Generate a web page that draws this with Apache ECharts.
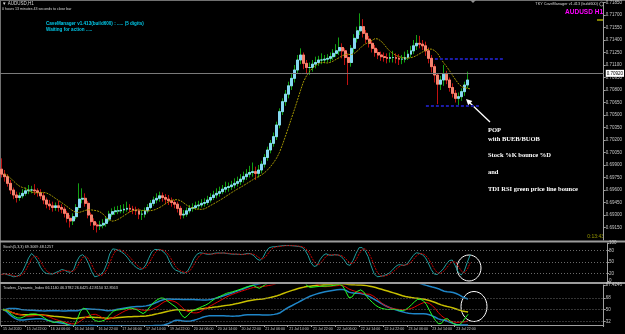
<!DOCTYPE html>
<html>
<head>
<meta charset="utf-8">
<style>
  html,body{margin:0;padding:0;background:#000;}
  #chart{width:625px;height:334px;}
</style>
</head>
<body>
<div id="chart"></div>
<script src="https://cdn.jsdelivr.net/npm/echarts@6/dist/echarts.min.js"></script>
<script>
// AUDUSD H1, one entry per hourly bar
var firstOpen = 0.6985;
var closes = [
  0.6979,0.6976,0.6968,0.6960,0.6954,0.6951,0.6953,0.6956,0.6959,0.6960,
  0.6960,0.6959,0.6957,0.6953,0.6948,0.6943,0.6941,0.6939,0.6941,0.6939,
  0.6937,0.6932,0.6926,0.6923,0.6928,0.6939,0.6949,0.6950,0.6944,0.6930,
  0.6922,0.6918,0.6917,0.6918,0.6920,0.6925,0.6931,0.6934,0.6935,0.6935,
  0.6936,0.6937,0.6938,0.6937,0.6936,0.6935,0.6931,0.6931,0.6935,0.6939,
  0.6944,0.6948,0.6950,0.6953,0.6951,0.6949,0.6947,0.6945,0.6943,0.6938,
  0.6930,0.6931,0.6935,0.6938,0.6939,0.6941,0.6942,0.6944,0.6945,0.6948,
  0.6951,0.6954,0.6956,0.6958,0.6961,0.6963,0.6964,0.6966,0.6968,0.6970,
  0.6973,0.6976,0.6979,0.6981,0.6982,0.6980,0.6984,0.6991,0.6999,0.7008,
  0.7016,0.7024,0.7038,0.7054,0.7066,0.7075,0.7085,0.7094,0.7104,0.7116,
  0.7122,0.7112,0.7107,0.7107,0.7111,0.7113,0.7116,0.7116,0.7117,0.7118,
  0.7120,0.7124,0.7127,0.7131,0.7127,0.7119,0.7113,0.7130,0.7142,0.7151,
  0.7156,0.7148,0.7141,0.7136,0.7130,0.7125,0.7122,0.7120,0.7119,0.7118,
  0.7119,0.7119,0.7118,0.7117,0.7117,0.7119,0.7123,0.7127,0.7133,0.7136,
  0.7135,0.7133,0.7127,0.7118,0.7108,0.7098,0.7087,0.7092,0.7099,0.7092,
  0.7083,0.7076,0.7070,0.7072,0.7078,0.7086,0.7092
];
var highs = [
  0.6998,0.6984,0.6979,0.6972,0.6963,0.6958,0.6957,0.6961,0.6963,0.6966,
  0.6965,0.6967,0.6962,0.6961,0.6957,0.6951,0.6948,0.6946,0.6945,0.6947,
  0.6943,0.6940,0.6935,0.6930,0.6932,0.6943,0.6968,0.6962,0.6956,0.6947,
  0.6933,0.6926,0.6921,0.6923,0.6925,0.6928,0.6935,0.6938,0.6940,0.6941,
  0.6942,0.6943,0.6946,0.6943,0.6941,0.6940,0.6938,0.6936,0.6939,0.6943,
  0.6948,0.6952,0.6956,0.6958,0.6957,0.6955,0.6954,0.6951,0.6948,0.6946,
  0.6941,0.6936,0.6939,0.6942,0.6944,0.6946,0.6947,0.6949,0.6950,0.6953,
  0.6956,0.6959,0.6962,0.6964,0.6966,0.6970,0.6969,0.6971,0.6974,0.6976,
  0.6979,0.6982,0.6985,0.6989,0.6993,0.6988,0.6990,0.6995,0.7003,0.7012,
  0.7020,0.7029,0.7042,0.7058,0.7070,0.7080,0.7090,0.7099,0.7110,0.7122,
  0.7130,0.7125,0.7116,0.7113,0.7116,0.7120,0.7121,0.7124,0.7122,0.7123,
  0.7125,0.7129,0.7135,0.7143,0.7136,0.7130,0.7124,0.7134,0.7147,0.7156,
  0.7172,0.7165,0.7152,0.7145,0.7139,0.7134,0.7129,0.7126,0.7125,0.7124,
  0.7125,0.7127,0.7124,0.7123,0.7122,0.7126,0.7128,0.7133,0.7140,0.7146,
  0.7145,0.7140,0.7138,0.7131,0.7122,0.7111,0.7100,0.7097,0.7110,0.7103,
  0.7095,0.7088,0.7080,0.7077,0.7082,0.7090,0.7102
];
var lows = [
  0.6975,0.6970,0.6964,0.6955,0.6949,0.6945,0.6947,0.6950,0.6953,0.6955,
  0.6956,0.6954,0.6952,0.6949,0.6943,0.6938,0.6936,0.6934,0.6935,0.6934,
  0.6932,0.6927,0.6921,0.6915,0.6918,0.6925,0.6936,0.6944,0.6940,0.6926,
  0.6917,0.6912,0.6909,0.6912,0.6914,0.6916,0.6922,0.6928,0.6930,0.6931,
  0.6932,0.6932,0.6934,0.6933,0.6931,0.6930,0.6925,0.6924,0.6927,0.6932,
  0.6937,0.6941,0.6944,0.6946,0.6946,0.6943,0.6942,0.6940,0.6938,0.6933,
  0.6925,0.6926,0.6928,0.6932,0.6934,0.6936,0.6937,0.6939,0.6940,0.6942,
  0.6945,0.6948,0.6950,0.6952,0.6955,0.6957,0.6958,0.6960,0.6962,0.6964,
  0.6966,0.6969,0.6972,0.6975,0.6976,0.6972,0.6975,0.6980,0.6987,0.6995,
  0.7004,0.7012,0.7020,0.7034,0.7050,0.7061,0.7070,0.7080,0.7089,0.7100,
  0.7111,0.7105,0.7100,0.7098,0.7102,0.7106,0.7109,0.7111,0.7112,0.7113,
  0.7114,0.7116,0.7120,0.7122,0.7118,0.7110,0.7086,0.7108,0.7125,0.7137,
  0.7146,0.7143,0.7136,0.7131,0.7125,0.7120,0.7117,0.7115,0.7114,0.7112,
  0.7113,0.7113,0.7112,0.7110,0.7111,0.7113,0.7116,0.7119,0.7123,0.7128,
  0.7130,0.7128,0.7121,0.7112,0.7101,0.7089,0.7063,0.7080,0.7085,0.7087,
  0.7078,0.7071,0.7065,0.7062,0.7067,0.7073,0.7082
];
var xLabels = ['15 Jul 2020','15 Jul 22:00','16 Jul 06:00','16 Jul 14:00','16 Jul 22:00',
  '17 Jul 06:00','17 Jul 14:00','19 Jul 22:00','20 Jul 06:00','20 Jul 14:00',
  '20 Jul 22:00','21 Jul 06:00','21 Jul 14:00','21 Jul 22:00','22 Jul 06:00',
  '22 Jul 14:00','22 Jul 22:00','23 Jul 06:00','23 Jul 14:00','23 Jul 22:00'];
var barsPerLabel = 8;
var slots = 202;                 // bars + empty right margin
var priceMin = 0.6900, priceMax = 0.7185, priceStep = 0.0015;
var stochTicks = [0, 20, 50, 80, 100];
var stochLevels = [80, 50, 20];
var tdiMin = 26.5012, tdiMax = 87.4246;
var tdiLevels = [68, 50, 32];
// blue dashed levels: [price, first bar, last bar]
var levelTop = [0.7117, 145, 168];
var levelBottom = [0.7061, 142, 160];

var n = closes.length;
var opens = [firstOpen].concat(closes.slice(0, n - 1));
var candles = [], bodies = [];
for (var i = 0; i < n; i++) {
  candles.push([opens[i], closes[i], lows[i], highs[i]]);
  bodies.push([opens[i], closes[i], Math.min(opens[i], closes[i]), Math.max(opens[i], closes[i])]);
}
var cats = [];
for (i = 0; i < slots; i++) cats.push(String(i));

function sma(src, p, i) {
  var s = 0, k = 0;
  for (var j = Math.max(0, i - p + 1); j <= i; j++) { if (src[j] != null) { s += src[j]; k++; } }
  return k ? s / k : null;
}

// moving average on price, shifted one bar
var maLine = [null];
for (i = 0; i < n; i++) maLine.push(sma(closes, 8, i));

// stochastic 5,3,3
var num = [], den = [], kLine = [], dLine = [];
for (i = 0; i < n; i++) {
  var ll = Infinity, hh = -Infinity;
  for (var j = Math.max(0, i - 4); j <= i; j++) { ll = Math.min(ll, lows[j]); hh = Math.max(hh, highs[j]); }
  num.push(closes[i] - ll); den.push(hh - ll);
  var sn = 0, sd = 0;
  for (j = Math.max(0, i - 2); j <= i; j++) { sn += num[j]; sd += den[j]; }
  kLine.push(sd ? sn / sd * 100 : 50);
}
for (i = 0; i < n; i++) dLine.push(sma(kLine, 3, i));

// TDI: RSI 13 and its averages/bands
var rsi = [], ag = 0.0004, al = 0.0004;
for (i = 0; i < n; i++) {
  var d = i ? closes[i] - closes[i - 1] : 0;
  ag = (ag * 12 + Math.max(d, 0)) / 13;
  al = (al * 12 + Math.max(-d, 0)) / 13;
  rsi.push(100 - 100 / (1 + ag / al));
}
var tdiGreen = [], tdiRed = [], tdiBase = [], tdiUp = [], tdiDn = [];
for (i = 0; i < n; i++) {
  tdiGreen.push(sma(rsi, 2, i));
  tdiRed.push(sma(rsi, 7, i));
  var b = sma(rsi, 34, i), v = 0, c = 0;
  for (j = Math.max(0, i - 33); j <= i; j++) { v += (rsi[j] - b) * (rsi[j] - b); c++; }
  var sdv = Math.sqrt(v / c);
  tdiBase.push(b); tdiUp.push(b + 1.6185 * sdv); tdiDn.push(b - 1.6185 * sdv);
}
var last = n - 1;

function levelLines(vals) {
  return {
    silent: true, symbol: 'none', label: { show: false },
    lineStyle: { color: '#6a6a6a', type: [1, 2], width: 1 },
    data: vals.map(function (v) { return { yAxis: v }; })
  };
}
var tinyFont = { color: '#c8c8c8', fontSize: 4.5, fontFamily: 'Liberation Sans' };

var chart = echarts.init(document.getElementById('chart'));
var option = {
  backgroundColor: '#000',
  animation: false,
  grid: [
    { left: 0, right: 18, top: 2, height: 238 },
    { left: 0, right: 18, top: 243, height: 38 },
    { left: 0, right: 18, top: 285, height: 40 }
  ],
  xAxis: [0, 1, 2].map(function (g) {
    return {
      type: 'category', gridIndex: g, data: cats, boundaryGap: true,
      axisLine: { show: g == 2, lineStyle: { color: '#a0a0a0' } },
      axisTick: {
        show: g == 2, length: 2, lineStyle: { color: '#a0a0a0' },
        interval: function (idx) { return idx % barsPerLabel == 0 && idx / barsPerLabel < xLabels.length; }
      },
      axisLabel: {
        show: g == 2, interval: 0, align: 'left', margin: 2,
        color: '#c8c8c8', fontSize: 3.6, fontFamily: 'Liberation Sans',
        formatter: function (v, idx) {
          return idx % barsPerLabel == 0 && xLabels[idx / barsPerLabel] ? xLabels[idx / barsPerLabel] : '';
        }
      },
      splitLine: { show: false }
    };
  }),
  yAxis: [
    {
      type: 'value', gridIndex: 0, position: 'right', scale: true,
      min: priceMin, max: priceMax, interval: priceStep,
      axisLine: { show: true, lineStyle: { color: '#a0a0a0' } },
      axisTick: { show: true, length: 2, lineStyle: { color: '#a0a0a0' } },
      axisLabel: Object.assign({ margin: 2, showMinLabel: false,
        formatter: function (v) { return v.toFixed(5); } }, tinyFont),
      splitLine: { show: false }
    },
    {
      type: 'value', gridIndex: 1, position: 'right', min: 0, max: 100,
      axisLine: { show: true, lineStyle: { color: '#a0a0a0' } },
      axisTick: { show: true, length: 2, customValues: stochTicks, lineStyle: { color: '#a0a0a0' } },
      axisLabel: Object.assign({ margin: 2, customValues: stochTicks }, tinyFont),
      splitLine: { show: false }
    },
    {
      type: 'value', gridIndex: 2, position: 'right', min: tdiMin, max: tdiMax,
      axisLine: { show: true, lineStyle: { color: '#a0a0a0' } },
      axisTick: { show: true, length: 2, customValues: [tdiMin, 32, 50, 68, tdiMax], lineStyle: { color: '#a0a0a0' } },
      axisLabel: Object.assign({ margin: 2, customValues: [tdiMin, 32, 50, 68, tdiMax],
        formatter: function (v) { return (v == tdiMin || v == tdiMax) ? v.toFixed(4) : String(v); } }, tinyFont),
      splitLine: { show: false }
    }
  ],
  series: [
    {
      type: 'candlestick', name: 'wicks', xAxisIndex: 0, yAxisIndex: 0, data: candles, barWidth: 2.4,
      itemStyle: { color: '#86d9f2', color0: '#f5836f', borderColor: '#12a012', borderColor0: '#c01010',
        borderColorDoji: '#12a012', borderWidth: 1 },
      markLine: {
        silent: true, symbol: 'none',
        data: [
          {
            yAxis: closes[last], lineStyle: { color: '#7a7a7a', type: 'solid', width: 1 },
            label: { show: true, position: 'end', distance: 2, formatter: closes[last].toFixed(5),
              backgroundColor: '#ffffff', color: '#000', fontSize: 4.5, fontFamily: 'Liberation Sans', padding: [1, 1] }
          },
          [{ coord: [levelTop[1], levelTop[0]] }, { coord: [levelTop[2], levelTop[0]] }],
          [{ coord: [levelBottom[1], levelBottom[0]] }, { coord: [levelBottom[2], levelBottom[0]] }]
        ],
        lineStyle: { color: '#1c1ca8', type: [3, 2], width: 2 },
        label: { show: false }
      }
    },
    {
      type: 'candlestick', name: 'bodies', xAxisIndex: 0, yAxisIndex: 0, data: bodies, barWidth: 2.4,
      itemStyle: { color: '#86d9f2', color0: '#f5836f', borderColor: '#86d9f2', borderColor0: '#f5836f',
        borderColorDoji: '#86d9f2', borderWidth: 1 }
    },
    {
      type: 'line', name: 'ma', xAxisIndex: 0, yAxisIndex: 0, data: maLine, symbol: 'none',
      lineStyle: { color: '#a89a00', width: 1, type: [2, 1] }
    },
    {
      type: 'line', name: 'stoch main', xAxisIndex: 1, yAxisIndex: 1, data: kLine, symbol: 'none',
      lineStyle: { color: '#1f9c9c', width: 1 }, markLine: levelLines(stochLevels)
    },
    {
      type: 'line', name: 'stoch signal', xAxisIndex: 1, yAxisIndex: 1, data: dLine, symbol: 'none',
      lineStyle: { color: '#c80000', width: 1, type: [2, 1] }
    },
    {
      type: 'line', name: 'upper band', xAxisIndex: 2, yAxisIndex: 2, data: tdiUp, symbol: 'none',
      lineStyle: { color: '#1f86c8', width: 1.5 }, markLine: levelLines(tdiLevels)
    },
    {
      type: 'line', name: 'lower band', xAxisIndex: 2, yAxisIndex: 2, data: tdiDn, symbol: 'none',
      lineStyle: { color: '#1f86c8', width: 1.5 }
    },
    {
      type: 'line', name: 'market base', xAxisIndex: 2, yAxisIndex: 2, data: tdiBase, symbol: 'none',
      lineStyle: { color: '#c8c000', width: 1.5 }
    },
    {
      type: 'line', name: 'signal', xAxisIndex: 2, yAxisIndex: 2, data: tdiRed, symbol: 'none',
      lineStyle: { color: '#e00000', width: 1 }
    },
    {
      type: 'line', name: 'rsi price', xAxisIndex: 2, yAxisIndex: 2, data: tdiGreen, symbol: 'none',
      lineStyle: { color: '#22ff22', width: 1 }
    }
  ],
  graphic: [
    // window frames and separators
    { type: 'rect', shape: { x: 0, y: 0, width: 625, height: 1 }, style: { fill: '#707070' } },
    { type: 'rect', shape: { x: 0, y: 0, width: 1, height: 326 }, style: { fill: '#707070' } },
    { type: 'rect', shape: { x: 0, y: 240.5, width: 625, height: 2 }, style: { fill: '#9c9c9c' } },
    { type: 'rect', shape: { x: 0, y: 282, width: 625, height: 2 }, style: { fill: '#9c9c9c' } },
    { type: 'polygon', shape: { points: [[470, 0], [476, 0], [473, 3]] }, style: { fill: '#909090' } },
    // info texts
    { type: 'text', x: 2, y: 1, style: { text: '▼ AUDUSD,H1', fill: '#d8d8d8', font: '4.5px "Liberation Sans"' } },
    { type: 'text', x: 2, y: 7, style: { text: '0 hours 13 minutes 43 seconds to close bar', fill: '#d8d8d8', font: '3.6px "Liberation Sans"' } },
    { type: 'text', x: 46, y: 21, style: { text: 'CaveManager v1.413(build600) : ..... (5 digits)', fill: '#00c8e8', font: 'bold 4.6px "Liberation Sans"' } },
    { type: 'text', x: 46, y: 27, style: { text: 'Waiting for action .....', fill: '#00c8e8', font: 'bold 4.6px "Liberation Sans"' } },
    { type: 'text', x: 598, y: 2, style: { text: 'TKY CaveManager v1.413 (build600)', align: 'right', fill: '#d8d8d8', font: '3.8px "Liberation Sans"' } },
    { type: 'circle', shape: { cx: 601.5, cy: 4, r: 2 }, style: { fill: null, stroke: '#c8c8c8', lineWidth: 0.6 } },
    { type: 'text', x: 603, y: 9, style: { text: 'AUDUSD H1', align: 'right', fill: '#ff00ff', font: 'bold 6.5px "Liberation Sans"' } },
    { type: 'rect', shape: { x: 597, y: 19.5, width: 6, height: 1 }, style: { fill: '#ffff00' } },
    { type: 'text', x: 604, y: 234.5, style: { text: '0:13:43', align: 'right', fill: '#9a9a00', font: '5px "Liberation Sans"' } },
    { type: 'text', x: 3, y: 245, style: { text: 'Stoch(5,3,3) ' + kLine[last].toFixed(4) + ' ' + dLine[last].toFixed(4), fill: '#d8d8d8', font: '3.8px "Liberation Sans"' } },
    { type: 'text', x: 3, y: 286, style: { text: 'Traders_Dynamic_Index ' + [tdiUp[last], tdiBase[last], tdiDn[last], tdiGreen[last], tdiRed[last]].map(function (v) { return v.toFixed(4); }).join(' '), fill: '#d8d8d8', font: '3.8px "Liberation Sans"' } },
    // annotation
    { type: 'line', shape: { x1: 490, y1: 122, x2: 470, y2: 103 }, style: { stroke: '#ffffff', lineWidth: 1.3 } },
    { type: 'polygon', shape: { points: [[466, 99], [472.4, 100.9], [468.2, 105.3]] }, style: { fill: '#ffffff' } },
    { type: 'text', x: 488, y: 130, style: { text: 'POP', fill: '#fff', verticalAlign: 'middle', font: 'bold 6.5px "Liberation Serif"' } },
    { type: 'text', x: 488, y: 139.5, style: { text: 'with BUEB/BUOB', fill: '#fff', verticalAlign: 'middle', font: 'bold 6.5px "Liberation Serif"' } },
    { type: 'text', x: 488, y: 155, style: { text: 'Stock %K bounce %D', fill: '#fff', verticalAlign: 'middle', font: 'bold 6.5px "Liberation Serif"' } },
    { type: 'text', x: 488, y: 172, style: { text: 'and', fill: '#fff', verticalAlign: 'middle', font: 'bold 6.5px "Liberation Serif"' } },
    { type: 'text', x: 488, y: 189, style: { text: 'TDI RSI green price line bounce', fill: '#fff', verticalAlign: 'middle', font: 'bold 6.5px "Liberation Serif"' } },
    { type: 'ellipse', shape: { cx: 469, cy: 268, rx: 12, ry: 13 }, style: { fill: null, stroke: '#ffffff', lineWidth: 1 } },
    { type: 'ellipse', shape: { cx: 474, cy: 306.5, rx: 13, ry: 15 }, style: { fill: null, stroke: '#ffffff', lineWidth: 1 } }
  ]
};
chart.setOption(option);
</script>
</body>
</html>
